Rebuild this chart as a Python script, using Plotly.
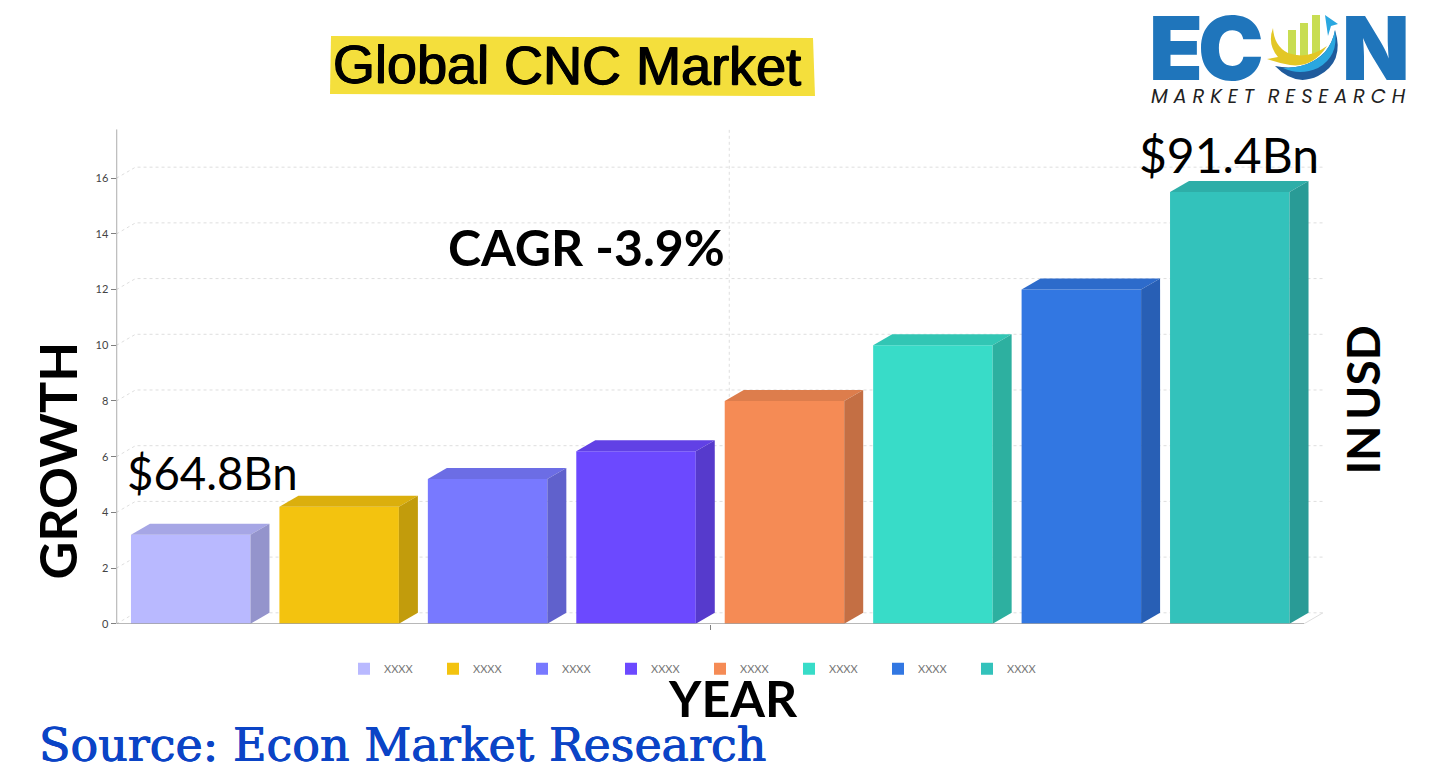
import plotly.graph_objects as go

# ---- data ----
categories = [0, 1, 2, 3, 4, 5, 6, 7]
legend_names = ["XXXX"] * 8
values = [3.2, 4.2, 5.2, 6.2, 8.0, 10.0, 12.0, 15.5]
y_ticks = [0, 2, 4, 6, 8, 10, 12, 14, 16]
front_colors = ["#b9b9ff", "#f3c30f", "#7879ff", "#6c49ff", "#f58b55", "#38dcc8", "#3277e2", "#33c2bb"]
top_colors = ["#a6a6e5", "#dbaf0d", "#6c6de5", "#6141e5", "#dd7d4c", "#32c6b4", "#2d6bcb", "#2eaea8"]
side_colors = ["#9494cc", "#c29c0c", "#6061cc", "#563acc", "#c46f44", "#2db0a0", "#285fb5", "#299b96"]

# ---- page geometry ----
W, H, PAGE = 1418, 764, 8
H_EFF = 757
def fx(p): return (p - PAGE) / W
def fy(p): return 1 - (p - PAGE) / H_EFF

DX, DY = 0.128, 0.395
XMIN, XMAX = -0.5, 7.5
YTOP = 17.76
GRID = "#dedede"
AXIS = "#808080"

fig = go.Figure()

# back wall, floor and grid
for t in y_ticks:
    fig.add_trace(go.Scatter(x=[XMIN, XMIN + DX, XMAX + DX], y=[t, t + DY, t + DY], mode="lines",
                             line=dict(color=GRID, width=1, dash="dot"), showlegend=False,
                             hoverinfo="skip", cliponaxis=False, zorder=0))
fig.add_trace(go.Scatter(x=[XMIN + DX + 4, XMIN + DX + 4], y=[DY, YTOP + DY], mode="lines",
                         line=dict(color=GRID, width=1, dash="dot"), showlegend=False,
                         hoverinfo="skip", cliponaxis=False, zorder=0))
fig.add_trace(go.Scatter(x=[XMAX, XMAX + DX], y=[0, DY], mode="lines",
                         line=dict(color=GRID, width=1), showlegend=False,
                         hoverinfo="skip", cliponaxis=False, zorder=0))

BAR_W = 0.805
for c, v, name, fc in zip(categories, values, legend_names, front_colors):
    fig.add_trace(go.Bar(x=[c], y=[v], width=BAR_W, name=name, marker=dict(color=fc, line=dict(width=0)),
                         zorder=1))
for c, v, tc, sc in zip(categories, values, top_colors, side_colors):
    l, r = c - BAR_W / 2, c + BAR_W / 2
    fig.add_trace(go.Scatter(x=[l, l + DX, r + DX, r, l], y=[v, v + DY, v + DY, v, v], mode="lines",
                             fill="toself", fillcolor=tc, line=dict(width=0, color=tc), showlegend=False,
                             hoverinfo="skip", cliponaxis=False, zorder=2))
    fig.add_trace(go.Scatter(x=[r, r + DX, r + DX, r, r], y=[0, DY, v + DY, v, 0], mode="lines",
                             fill="toself", fillcolor=sc, line=dict(width=0, color=sc), showlegend=False,
                             hoverinfo="skip", cliponaxis=False, zorder=2))
# axis lines
fig.add_trace(go.Scatter(x=[XMIN, XMAX], y=[0, 0], mode="lines", line=dict(color=AXIS, width=1.3),
                         showlegend=False, hoverinfo="skip", cliponaxis=False, zorder=3))
fig.add_trace(go.Scatter(x=[XMIN, XMIN], y=[0, YTOP], mode="lines", line=dict(color=AXIS, width=1.3),
                         showlegend=False, hoverinfo="skip", cliponaxis=False, zorder=3))

def note(text, x, y, size, family="Lato", weight=400, color="#000000", angle=0, xa="center", ya="middle",
         italic=False, shadow="none"):
    return dict(text=text, x=fx(x), y=fy(y), xref="paper", yref="paper", showarrow=False, xanchor=xa, yanchor=ya,
                textangle=angle, font=dict(family=family, size=size, color=color, weight=weight, shadow=shadow,
                                           style="italic" if italic else "normal"))

annotations = [
    note("Global CNC Market", 566.5, 65, 54, family="Liberation Sans", angle=0.3,
         shadow="0.7px 0 0 #000000, -0.7px 0 0 #000000, 0 0.5px 0 #000000"),
    note("$64.8Bn", 212, 472, 45.5),
    note("$91.4Bn", 1229, 154, 48),
    note("CAGR -3.9%", 586, 247, 50, weight=700),
    note("GROWTH", 57, 460, 52, weight=700, angle=-90),
    note("IN&#8201;USD", 1363, 400, 46, weight=700, angle=-90),
    note("YEAR", 733, 697, 50, weight=700),
    note("Source: Econ Market Research", 37, 744, 46, family="DejaVu Serif", color="#0b44c6", xa="left",
         shadow="0.5px 0 0 #0b44c6, -0.5px 0 0 #0b44c6"),
    note("E", 1176, 48, 88, family="Inter", weight=900, color="#1f75bb"),
    note("C", 1231, 48, 88, family="Inter", weight=900, color="#1f75bb"),
    note("N", 1376, 48, 88, family="Inter", weight=900, color="#1f75bb"),
    note("M A R K E T&#8201;&#8201; R E S E A R C H", 1278, 96, 19.5, family="Poppins, Inter", color="#222222", italic=True),
]

def path(d, color):
    out = []
    for tok in d.split():
        if "," in tok:
            a, b = tok.split(",")
            out.append(f"{fx(float(a)):.5f},{fy(float(b)):.5f}")
        else:
            out.append(tok)
    return dict(type="path", path=" ".join(out), xref="paper", yref="paper", fillcolor=color, line=dict(width=0))

shapes = [
    # title highlight
    path("M 331,36 L 813,38 L 815,96 L 330,94 Z", "#f4df3c"),
    # logo mark
    path("M 1288,30 L 1296,30 L 1296,60 L 1288,58 Z", "#c8dd52"),
    path("M 1300,23 L 1308,23 L 1308,60 L 1300,60 Z", "#c8dd52"),
    path("M 1312,15 L 1320,15 L 1320,55 L 1312,58 Z", "#c8dd52"),
    path("M 1335,30 Q 1345,62 1318,76 Q 1295,87 1275,66 Q 1305,72 1325,52 Q 1333,42 1335,30 Z", "#1f5b9c"),
    path("M 1335,30 Q 1339,56 1318,68 Q 1300,76 1283,68 Q 1310,68 1325,52 Q 1333,42 1335,30 Z", "#2aa7e0"),
    path("M 1273,28 Q 1274,46 1288,53 Q 1308,60 1327,46 Q 1313,68 1290,65 Q 1278,63 1267,59 L 1278,57 Q 1267,44 1273,28 Z", "#e3c725"),
    path("M 1325,15 L 1338,24 L 1331,26 L 1328,36 Z", "#2aa7e0"),
]

fig.update_layout(
    width=W, height=H, autosize=False,
    margin=dict(l=0, r=0, t=0, b=0),
    paper_bgcolor="#ffffff", plot_bgcolor="rgba(0,0,0,0)",
    barmode="overlay",
    font=dict(family="Lato", color="#444444"),
    xaxis=dict(domain=[fx(116.5), fx(1323)], range=[XMIN, XMAX + DX], tickvals=[3.5], ticktext=[""],
               ticks="outside", ticklen=5, tickcolor=AXIS, showgrid=False, zeroline=False, showline=False),
    yaxis=dict(domain=[fy(623), fy(129)], range=[0, YTOP], tickvals=y_ticks, ticks="outside", ticklen=5,
               tickcolor=AXIS, showgrid=False, zeroline=False, showline=False,
               tickfont=dict(family="Lato", size=11, color="#444444")),
    legend=dict(orientation="h", x=fx(344), y=fy(668), xanchor="left", yanchor="middle",
                entrywidth=44, entrywidthmode="pixels", itemwidth=30,
                font=dict(family="Lato", size=11, color="#777777"), itemclick=False, itemdoubleclick=False),
    annotations=annotations,
    shapes=shapes,
)
fig.write_html("out.html")
